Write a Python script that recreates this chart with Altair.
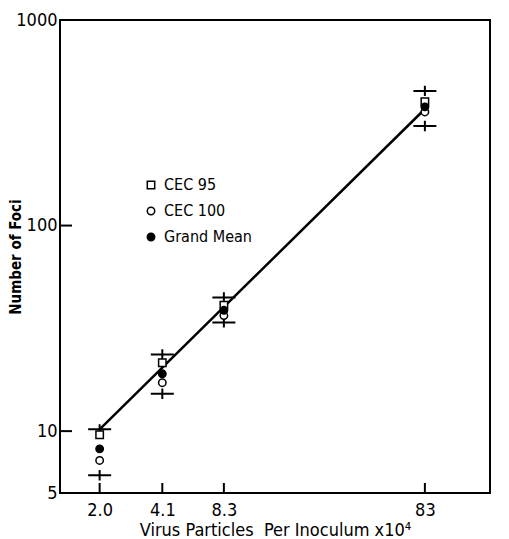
import altair as alt
import pandas as pd

x_vals = [2.0, 4.1, 8.3, 83]
cec95 = [9.6, 21.5, 41.0, 400]
cec100 = [7.2, 17.2, 36.5, 357]
grand_mean = [8.2, 19.0, 38.7, 378]
upper = [10.2, 23.6, 44.7, 452]
lower = [6.1, 15.2, 33.8, 305]
fit_x = [2.0, 83]
fit_y = [10.2, 369]
x_ticks = [2.0, 4.1, 8.3, 83]
y_ticks = [5, 10, 100, 1000]
series_names = ["CEC 95", "CEC 100", "Grand Mean"]

W, H = 430, 473
FONT = "DejaVu Sans Condensed"

rows = []
for i, xv in enumerate(x_vals):
    rows.append({"x": xv, "y": cec95[i], "series": "CEC 95"})
    rows.append({"x": xv, "y": cec100[i], "series": "CEC 100"})
    rows.append({"x": xv, "y": grand_mean[i], "series": "Grand Mean"})
pts = pd.DataFrame(rows)

bars = pd.DataFrame({"x": x_vals * 2, "y": upper + lower})
fit = pd.DataFrame({"x": fit_x, "y": fit_y})
xt = pd.DataFrame({"x": x_ticks})
yt = pd.DataFrame({"y": y_ticks[1:3]})

xscale = alt.Scale(type="log", domain=[1.27, 175], nice=False)
yscale = alt.Scale(type="log", domain=[5, 1000], nice=False)

xaxis = alt.Axis(values=x_ticks, ticks=False, domain=False, grid=False,
                 labelExpr="datum.value == 83 ? '83' : format(datum.value, '.1f')",
                 labelFontSize=18, labelPadding=8, labelColor="black", labelFont=FONT,
                 title="Virus Particles\u00a0\u00a0Per Inoculum x10⁴", titleFontSize=18,
                 titleFont=FONT, titleFontWeight="normal", titleColor="black",
                 titlePadding=2)
yaxis = alt.Axis(values=y_ticks, ticks=False, domain=False, grid=False,
                 labelExpr="format(datum.value, 'd')",
                 labelFontSize=18, labelPadding=3, labelColor="black", labelFont=FONT,
                 title="Number of Foci", titleFontSize=15, titleFont=FONT,
                 titleFontWeight="bold", titleColor="black",
                 titleX=-45, titleY=H / 2, titleAngle=270, titleAlign="center",
                 titleBaseline="middle")

base_x = alt.X("x:Q", scale=xscale, axis=xaxis)
base_y = alt.Y("y:Q", scale=yscale, axis=yaxis)

line = alt.Chart(fit).mark_line(color="black", strokeWidth=2.5).encode(x=base_x, y=base_y)

cross_path = "M-1,0L1,0M0,-0.45L0,0.45"
crosses = alt.Chart(bars).mark_point(shape=cross_path, size=529, stroke="black",
                                      strokeWidth=2, filled=False, opacity=1).encode(
    x=alt.X("x:Q", scale=xscale), y=alt.Y("y:Q", scale=yscale))

leg = dict(title=None, orient="none", legendX=83, legendY=157,
           labelFontSize=16, labelFont=FONT, labelColor="black",
           symbolSize=55, symbolStrokeWidth=1.5, rowPadding=10, padding=0,
           labelOffset=5)

points = alt.Chart(pts).mark_point(filled=True, strokeWidth=1.5,
                                   size=55, opacity=1).encode(
    x=alt.X("x:Q", scale=xscale), y=alt.Y("y:Q", scale=yscale),
    shape=alt.Shape("series:N", scale=alt.Scale(domain=series_names,
                                               range=["square", "circle", "circle"]),
                    legend=alt.Legend(**leg)),
    fill=alt.Fill("series:N", scale=alt.Scale(domain=series_names,
                                             range=["white", "white", "black"]),
                  legend=alt.Legend(**leg)),
    stroke=alt.Stroke("series:N", scale=alt.Scale(domain=series_names,
                                                 range=["black", "black", "black"]),
                      legend=alt.Legend(**leg)),
)

xtick = alt.Chart(xt).mark_rule(color="black", strokeWidth=2).encode(
    x=alt.X("x:Q", scale=xscale), y=alt.value(H), y2=alt.value(H - 10))
ytick = alt.Chart(yt).mark_rule(color="black", strokeWidth=2).encode(
    y=alt.Y("y:Q", scale=yscale), x=alt.value(0), x2=alt.value(12))

chart = alt.layer(line, crosses, points, xtick, ytick).properties(
    width=W, height=H,
    autosize=alt.AutoSizeParams(type="none"),
    padding={"left": 52, "top": 12, "right": 10, "bottom": 46},
    background="white",
).configure_view(stroke="black", strokeWidth=2)

chart.save("out.html", embed_options={"renderer": "svg", "actions": False})
